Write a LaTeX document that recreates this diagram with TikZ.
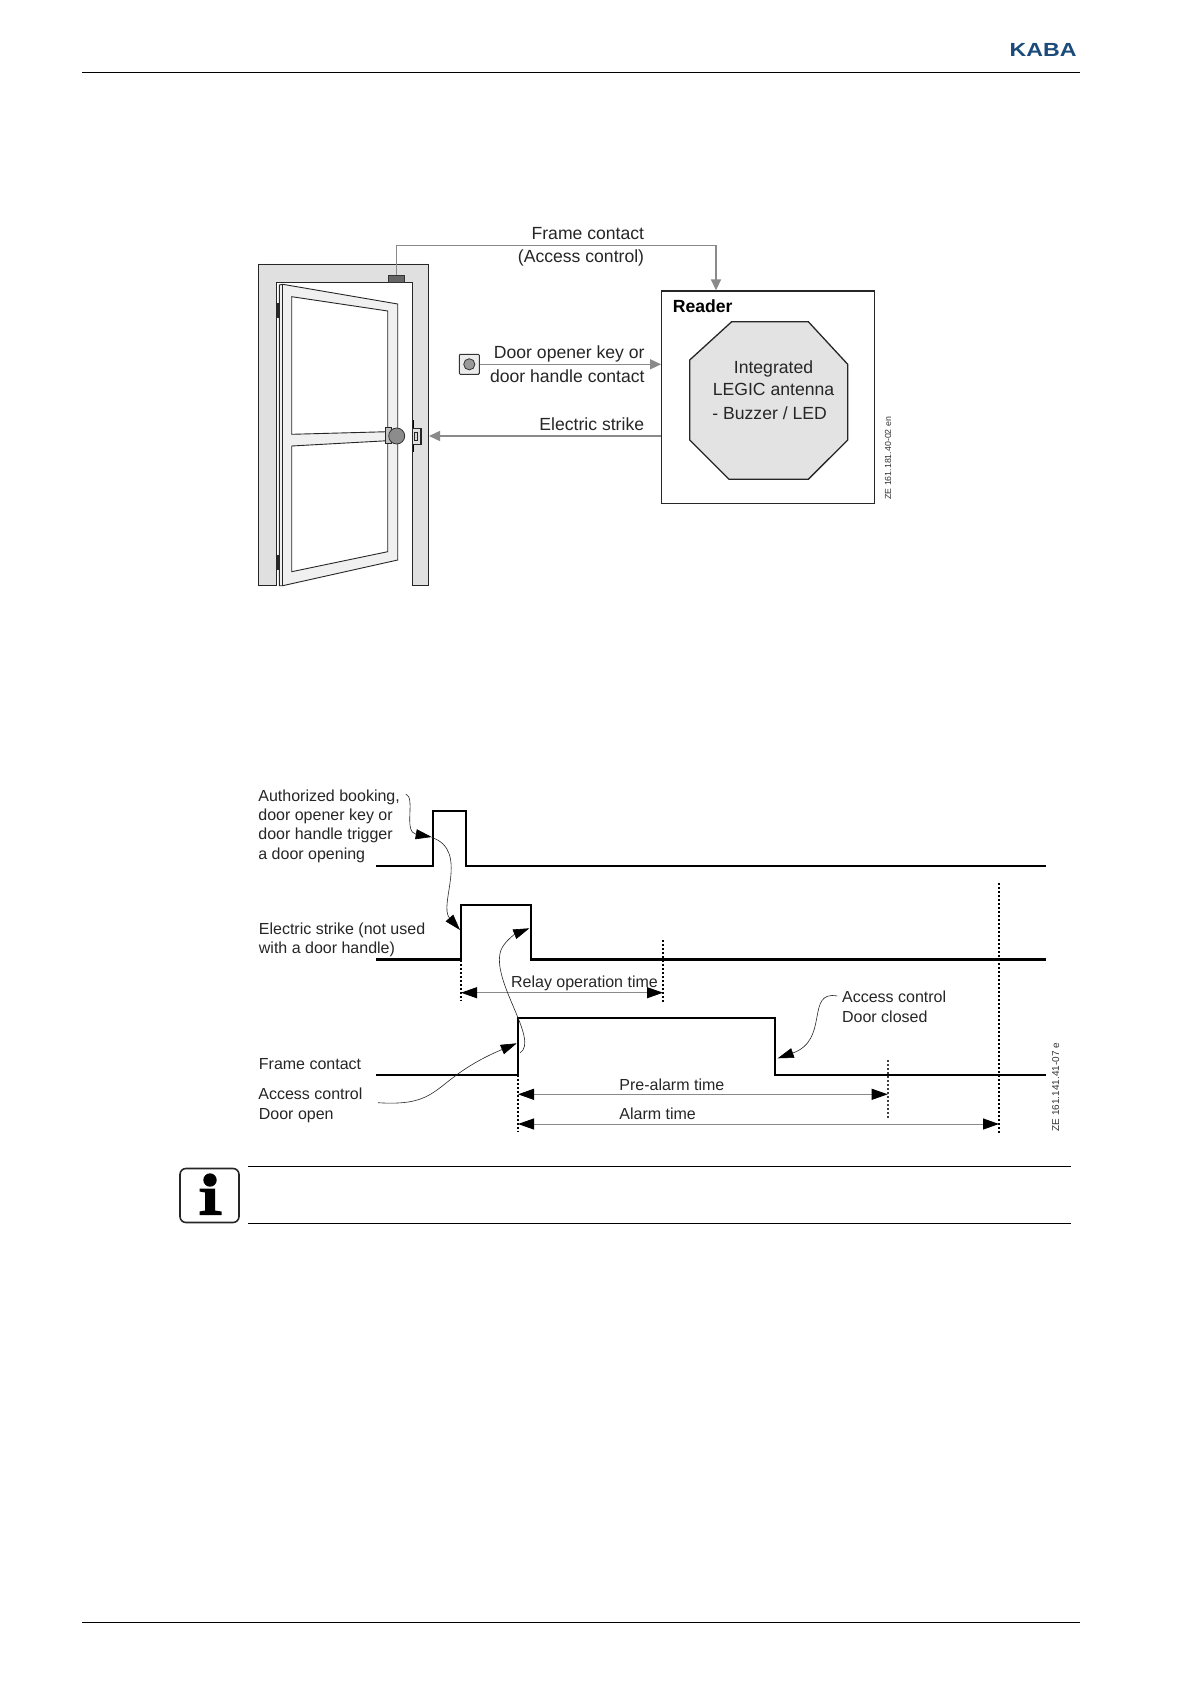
\documentclass[tikz,border=0pt]{standalone}
\usepackage{fontspec}
\setmainfont{Liberation Sans}
\usetikzlibrary{arrows.meta}
\definecolor{wallgrey}{HTML}{E0E0E0}
\definecolor{leafgrey}{HTML}{F0F0F0}
\definecolor{conngrey}{HTML}{8A8A8A}
\definecolor{kababLue}{HTML}{1B4B7A}
\tikzset{
  bigtxt/.style={inner sep=0pt,font=\fontsize{8.8}{11}\selectfont,text=black!85},
  smalltxt/.style={inner sep=0pt,font=\fontsize{8}{10}\selectfont,text=black!85},
  codetxt/.style={inner sep=0pt,rotate=90,text=black!80},
  partline/.style={draw=black!85,line width=0.45pt},
  conn/.style={draw=conngrey,line width=0.7pt,-{Triangle[length=5.5pt,width=5pt,color=conngrey]}},
  signal/.style={draw=black,line width=1.05pt,line join=miter},
  marker/.style={draw=black,line width=0.9pt,dash pattern=on 1pt off 1pt},
  span/.style={draw=conngrey,line width=0.5pt,{Triangle[length=8pt,width=5.5pt,color=black]}-{Triangle[length=8pt,width=5.5pt,color=black]}},
  pointer/.style={draw=black!85,line width=0.3pt,-{Triangle[length=8pt,width=5pt,color=black]}},
  rulebar/.style={draw=black,line width=0.5pt},
}
\begin{document}
\begin{tikzpicture}[x=0.5pt,y=-0.5pt]
\useasboundingbox (0,0) rectangle (1190,1684);
\fill[white] (0,0) rectangle (1190,1684);

% page furniture
\coordinate (hdL) at (82,72.5); \coordinate (hdR) at (1080,72.5);
\coordinate (ftL) at (82,1622); \coordinate (ftR) at (1080,1622);
\draw[rulebar] (hdL) -- (hdR);
\draw[rulebar] (ftL) -- (ftR);
\node[inner sep=0pt,anchor=base east,text=kababLue] (logo) at (1077,56.5)
  {\fontsize{9.5}{10}\selectfont\bfseries\scalebox{1.22}[1]{KABA}};

% door frame
\draw[partline,fill=wallgrey] (258.3,585.7) -- (258.3,264) -- (428.3,264) -- (428.3,585.7)
  -- (412.7,585.7) -- (412.7,282.3) -- (276.7,282.3) -- (276.7,585.7) -- cycle;
% door leaf
\draw[partline,fill=leafgrey] (279.3,285) -- (282.7,284.3) -- (397.7,304) -- (397.7,560)
  -- (282.7,585.7) -- (279.3,585.7) -- cycle;
\draw[partline] (282.7,284.3) -- (282.7,585.7);
\draw[partline,fill=white] (291.7,296.7) -- (387.7,311) -- (387.7,431.7) -- (291.7,434.3) -- cycle;
\draw[partline,fill=white] (291.7,446) -- (387.7,440.7) -- (387.7,551.7) -- (291.7,571.7) -- cycle;
% hinges
\fill[black!85] (276,302.7) rectangle (279.3,318.3);
\fill[black!85] (276,555) rectangle (279.3,570);
% handle
\draw[partline,fill=black!25] (385.7,427.7) rectangle (391.7,443.3);
\node[circle,draw=black!80,line width=0.4pt,fill=black!45,minimum size=8pt,inner sep=0pt] (knob) at (396.7,436) {};
% strike plate
\draw[black,line width=0.5pt] (413,420) -- (413,451.7);
\draw[partline,line width=0.7pt,fill=wallgrey] (412.7,428.7) rectangle (421,444.3);
\draw[partline,fill=black!15] (414,432.3) rectangle (417.7,440.7);
% frame contact
\node[draw=black!80,line width=0.3pt,fill=black!60,minimum width=8pt,minimum height=3.8pt,inner sep=0pt] (contact) at (396.7,279) {};

% reader
\node[draw=black!85,line width=0.65pt,fill=white,minimum width=106.3pt,minimum height=106.3pt,inner sep=0pt] (reader) at (768,397.3) {};
\draw[draw=black!85,line width=0.65pt,fill=wallgrey!90!white] (731.7,321.7) -- (808.3,321.7) -- (847.7,364.3) -- (847.7,440)
  -- (808.3,479.3) -- (729,479.3) -- (689.7,440) -- (689.7,360) -- cycle;
\node[bigtxt,anchor=base west,font=\fontsize{8.8}{11}\selectfont\bfseries,text=black] (tReader) at (672.5,312.7) {Reader};
\node[bigtxt,anchor=base] (tInt) at (773.5,374) {Integrated};
\node[bigtxt,anchor=base] (tLegic) at (773.5,395.3) {LEGIC antenna};
\node[bigtxt,anchor=base west] (tBuzz) at (712,419.3) {- Buzzer / LED};
\node[codetxt,anchor=base west,font=\fontsize{4.4}{6}\selectfont] (tCode1) at (891,500) {ZE 161.181.40-02 en};

% key
\node[draw=black!80,line width=0.5pt,fill=black!8,minimum width=10pt,minimum height=10pt,inner sep=0pt,rounded corners=0.5pt] (keybox) at (469.3,364.3) {};
\node[circle,draw=black!80,line width=0.4pt,fill=black!40,minimum size=5.6pt,inner sep=0pt] (keydot) at (469.3,364.3) {};

% connectors top
\coordinate (fcTurn) at (716,245.7);
\coordinate (strikeIn) at (429,436);
\coordinate (strikeLvl) at (600,436);
\draw[conn] (contact.north) |- (fcTurn) -- (fcTurn |- reader.north);
\draw[conn] (keybox.east) -- (keybox.east -| reader.west);
\draw[conn] (reader.west |- strikeLvl) -- (strikeIn);

\node[bigtxt,anchor=base east] (tFrame) at (644.5,240) {Frame contact};
\node[bigtxt,anchor=base east] (tAccess) at (644.5,262.7) {(Access control)};
\node[bigtxt,anchor=base east] (tKey) at (645,359) {Door opener key or};
\node[bigtxt,anchor=base east] (tHandle) at (645,383) {door handle contact};
\node[bigtxt,anchor=base east] (tStrike) at (644.5,430) {Electric strike};

% timing signals
\coordinate (a1) at (432.7,866); \coordinate (a2) at (432.7,811.3);
\coordinate (a3) at (465.7,811.3); \coordinate (a4) at (465.7,866);
\coordinate (b1) at (461,959.5); \coordinate (b2) at (461,905);
\coordinate (b3) at (530.7,905); \coordinate (b4) at (530.7,959.5);
\coordinate (c1) at (517.7,1074.7); \coordinate (c2) at (517.7,1018);
\coordinate (c3) at (775,1018); \coordinate (c4) at (775,1074.7);
\draw[signal] (376,866) -- (a1) -- (a2) -- (a3) -- (a4) -- (1046,866);
\draw[signal] (376,959.5) -- (b1) -- (b2) -- (b3) -- (b4) -- (1046,959.5);
\draw[signal] (376,1074.7) -- (c1) -- (c2) -- (c3) -- (c4) -- (1046,1074.7);

% time markers
\coordinate (mRelayT) at (663,940); \coordinate (mRelayB) at (663,1002);
\coordinate (mPreT) at (887.7,1060); \coordinate (mPreB) at (887.7,1118);
\coordinate (mAlT) at (999,883); \coordinate (mAlB) at (999,1133);
\coordinate (mStrB) at (461,1001); \coordinate (mFrB) at (517.7,1131);
\draw[marker] (b1) -- (mStrB);
\draw[marker] (c1) -- (mFrB);
\draw[marker] (mRelayT) -- (mRelayB);
\draw[marker,draw=black!75] (mPreT) -- (mPreB);
\draw[marker] (mAlT) -- (mAlB);

% durations
\coordinate (sR) at (461,992.7); \coordinate (sP) at (518,1094.3); \coordinate (sA) at (518,1124);
\draw[span] (sR) -- (sR -| mRelayT);
\draw[span] (sP) -- (sP -| mPreT);
\draw[span] (sA) -- (sA -| mAlT);

% curved pointers
\coordinate (p1s) at (405.7,794);
\coordinate (p1e) at (431.7,837);
\coordinate (p2s) at (431.7,837.5);
\coordinate (p2e) at (460,930);
\coordinate (p3s) at (520,1053);
\coordinate (p3e) at (529.3,928.3);
\coordinate (p4s) at (378,1102.7);
\coordinate (p4e) at (516.7,1043.3);
\coordinate (p5s) at (837.3,996);
\coordinate (p5e) at (777.7,1058.3);
\draw[pointer] (p1s) .. controls (416,797) and (403,832) .. (p1e);
\draw[pointer] (p2s) .. controls (470,850) and (438,905) .. (p2e);
\draw[pointer] (p3s) .. controls (540,1040) and (490,980) .. (501,950) .. controls (504,942) and (515,934) .. (p3e);
\draw[pointer] (p4s) .. controls (445,1107) and (430,1080) .. (p4e);
\draw[pointer] (p5s) .. controls (805,990) and (830,1040) .. (p5e);

% timing labels
\node[smalltxt,anchor=base west] (l1) at (258,801) {Authorized booking,};
\node[smalltxt,anchor=base west] (l2) at (258,820) {door opener key or};
\node[smalltxt,anchor=base west] (l3) at (258,839.7) {door handle trigger};
\node[smalltxt,anchor=base west] (l4) at (258,859) {a door opening};
\node[smalltxt,anchor=base west] (l5) at (258.5,934) {Electric strike (not used};
\node[smalltxt,anchor=base west] (l6) at (258.5,953.7) {with a door handle)};
\node[smalltxt,anchor=base west] (l7) at (258.5,1069) {Frame contact};
\node[smalltxt,anchor=base west] (l8) at (258,1099) {Access control};
\node[smalltxt,anchor=base west] (l9) at (258.5,1119) {Door open};
\node[smalltxt,anchor=base west] (l10) at (510.7,987.3) {Relay operation time};
\node[smalltxt,anchor=base west] (l11) at (619,1090.3) {Pre-alarm time};
\node[smalltxt,anchor=base west] (l12) at (619,1119.3) {Alarm time};
\node[smalltxt,anchor=base west] (l13) at (841.7,1002.7) {Access control};
\node[smalltxt,anchor=base west] (l14) at (841.7,1022) {Door closed};
\node[codetxt,anchor=base west,font=\fontsize{5}{6}\selectfont] (tCode2) at (1059,1131.7) {ZE 161.141.41-07 e};

% information note
\coordinate (nTL) at (248,1166); \coordinate (nTR) at (1071,1166);
\coordinate (nBL) at (248,1223); \coordinate (nBR) at (1071,1223);
\draw[rulebar] (nTL) -- (nTR);
\draw[rulebar] (nBL) -- (nBR);
\draw[draw=black!85,line width=0.8pt,rounded corners=3pt,fill=white] (180,1168.5) rectangle (239,1222.5);
\fill[black] (210,1180) circle[radius=6.7];
\fill[black] (199.5,1188.5) -- (215,1188.5) -- (215,1210.5) -- (221.5,1211.5) -- (221.5,1215)
  -- (199.5,1215) -- (199.5,1211.5) -- (205,1210.5) -- (205,1192.5) -- (199.5,1191.5) -- cycle;
\end{tikzpicture}
\end{document}
